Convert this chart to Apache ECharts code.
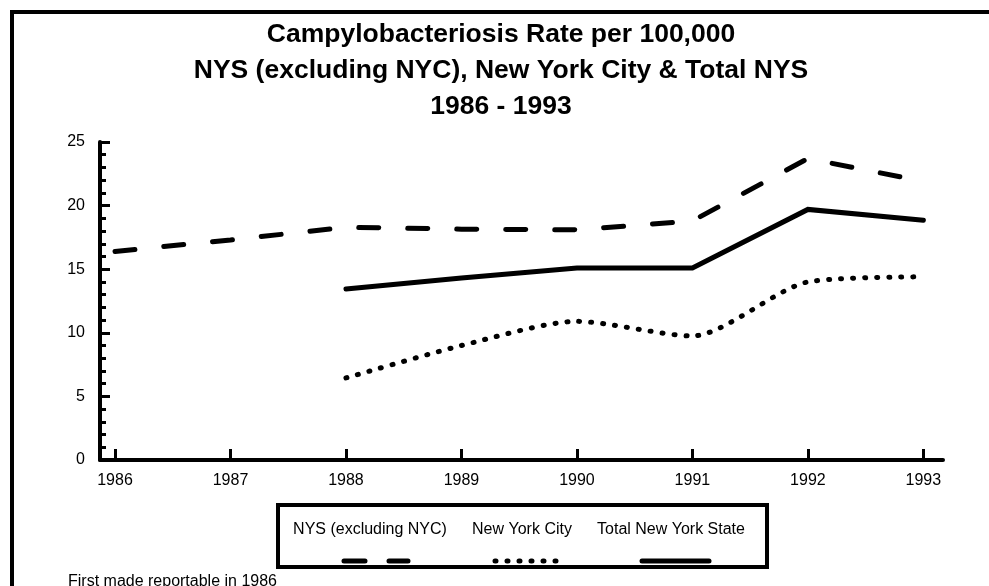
<!DOCTYPE html>
<html>
<head>
<meta charset="utf-8">
<script src="https://cdn.jsdelivr.net/npm/echarts@6/dist/echarts.min.js"></script>
<style>
  html, body { margin: 0; padding: 0; background: #fff; }
  #chart { width: 989px; height: 586px; }
</style>
</head>
<body>
<div id="chart"></div>
<script>
// 数据
var years = [1986, 1987, 1988, 1989, 1990, 1991, 1992, 1993];
var nysExclNyc = [16.4, 17.3, 18.3, 18.15, 18.1, 18.8, 23.7, 21.9];
var nyc = [null, null, 6.45, 9.0, 10.9, 9.75, 14.0, 14.4];
var totalNys = [null, null, 13.45, 14.3, 15.1, 15.1, 19.7, 18.85];
var yTicks = [0, 5, 10, 15, 20, 25];

function pairs(vals) {
    return years.map(function (y, i) { return [y, vals[i]]; });
}

var FONT = 'Liberation Sans, Arial, sans-serif';
var myChart = echarts.init(document.getElementById('chart'));

myChart.setOption({
    animation: false,
    backgroundColor: '#fff',
    textStyle: { fontFamily: FONT, color: '#000' },
    title: {
        text: 'Campylobacteriosis Rate per 100,000\nNYS (excluding NYC), New York City & Total NYS\n1986 - 1993',
        left: 496,
        textAlign: 'center',
        top: 12,
        textStyle: { fontSize: 26.5, fontWeight: 'bold', lineHeight: 36, color: '#000' }
    },
    grid: { left: 100, right: 46, top: 142, bottom: 126 },
    xAxis: {
        type: 'value',
        min: 1985.87,
        max: 1993.17,
        splitLine: { show: false },
        axisLine: { lineStyle: { color: '#000', width: 4 } },
        axisTick: { inside: true, length: 11, lineStyle: { color: '#000', width: 3 }, customValues: years },
        axisLabel: { customValues: years, margin: 13, fontSize: 16, color: '#000', formatter: function (v) { return String(v); } }
    },
    yAxis: {
        type: 'value',
        min: 0,
        max: 25,
        interval: 5,
        splitLine: { show: false },
        axisLine: { show: true, lineStyle: { color: '#000', width: 4 } },
        axisTick: { inside: true, length: 10, lineStyle: { color: '#000', width: 3 }, customValues: yTicks },
        minorTick: { show: true, splitNumber: 5, length: 6, lineStyle: { color: '#000', width: 3 } },
        axisLabel: { margin: 15, fontSize: 16, color: '#000' }
    },
    series: [
        {
            name: 'NYS (excluding NYC)',
            type: 'line',
            data: pairs(nysExclNyc),
            showSymbol: false,
            lineStyle: { color: '#000', width: 5, type: [20, 29], cap: 'round' }
        },
        {
            name: 'New York City',
            type: 'line',
            data: pairs(nyc),
            showSymbol: false,
            smooth: 0.25,
            lineStyle: { color: '#000', width: 5, type: [1, 11], cap: 'round' }
        },
        {
            name: 'Total New York State',
            type: 'line',
            data: pairs(totalNys),
            showSymbol: false,
            lineStyle: { color: '#000', width: 5, cap: 'round', join: 'miter' }
        }
    ],
    graphic: [
        // 外框
        { type: 'polyline', shape: { points: [[12, 586], [12, 12], [989, 12]] }, style: { stroke: '#000', lineWidth: 4, fill: null } },
        // 图例框
        { type: 'rect', shape: { x: 278, y: 505, width: 489, height: 62 }, style: { stroke: '#000', lineWidth: 4, fill: '#fff' } },
        { type: 'text', style: { x: 370, y: 530, text: 'NYS (excluding NYC)', align: 'center', verticalAlign: 'middle', fontSize: 16, fontFamily: FONT, fill: '#000' } },
        { type: 'text', style: { x: 522, y: 530, text: 'New York City', align: 'center', verticalAlign: 'middle', fontSize: 16, fontFamily: FONT, fill: '#000' } },
        { type: 'text', style: { x: 671, y: 530, text: 'Total New York State', align: 'center', verticalAlign: 'middle', fontSize: 16, fontFamily: FONT, fill: '#000' } },
        { type: 'line', shape: { x1: 344, y1: 561, x2: 408, y2: 561 }, style: { stroke: '#000', lineWidth: 5, lineCap: 'round', lineDash: [21, 24] } },
        { type: 'line', shape: { x1: 495, y1: 561, x2: 562, y2: 561 }, style: { stroke: '#000', lineWidth: 5, lineCap: 'round', lineDash: [1, 11] } },
        { type: 'line', shape: { x1: 642, y1: 561, x2: 709, y2: 561 }, style: { stroke: '#000', lineWidth: 5, lineCap: 'round' } },
        // 注释
        { type: 'text', style: { x: 68, y: 574, text: 'First made reportable in 1986', verticalAlign: 'top', fontSize: 16, fontFamily: FONT, fill: '#000' } }
    ]
});

window.onresize = function () {
    myChart.resize();
};
</script>
</body>
</html>
